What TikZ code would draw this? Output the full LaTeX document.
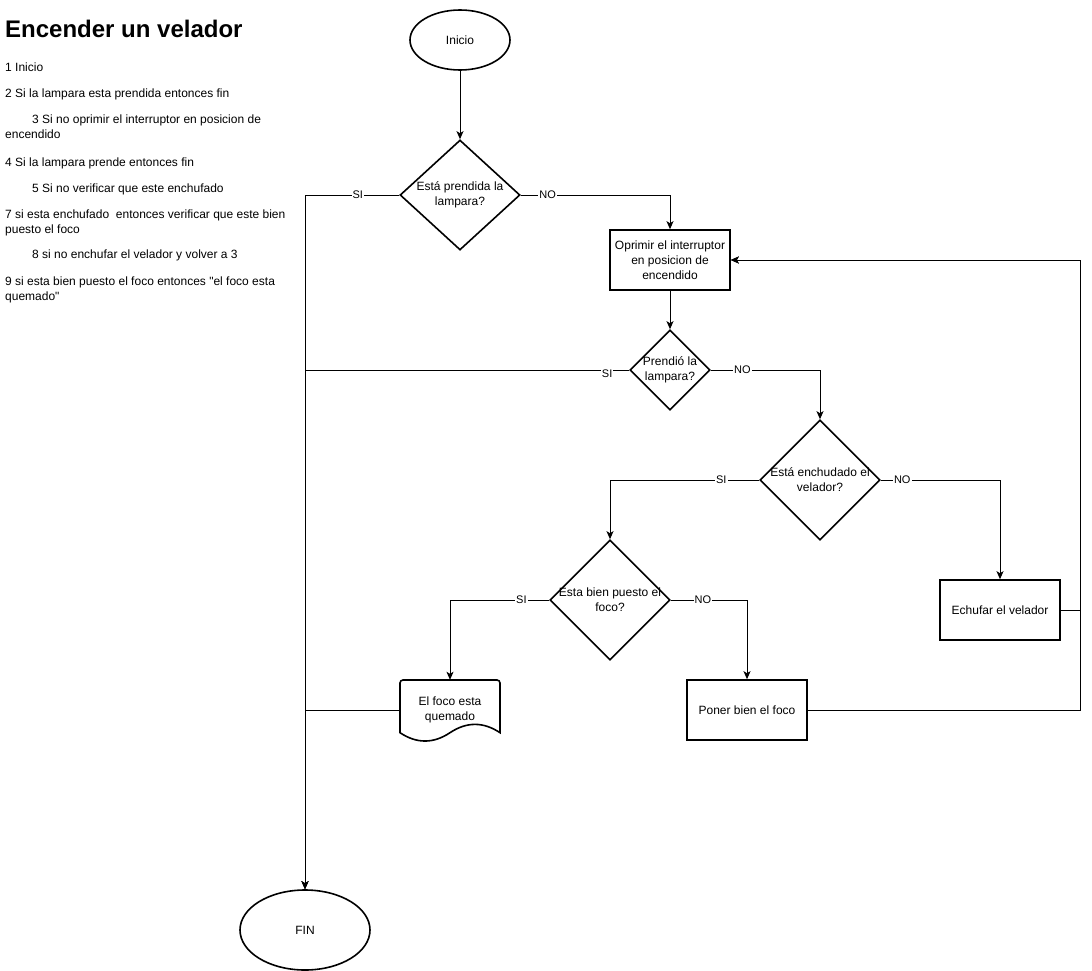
\documentclass[tikz,border=0pt]{standalone}
\usepackage{fontspec}
\setmainfont[Ligatures=TeXOff]{Liberation Sans}
\usetikzlibrary{shapes.geometric,arrows.meta}

\tikzset{
  shp/.style={draw=black, line width=1.6pt, fill=white, inner sep=0pt,
              font=\fontsize{12}{15}\selectfont, align=center},
  oval/.style={shp, ellipse},
  procbox/.style={shp, rectangle},
  decision/.style={shp, diamond},
  dtext/.style={inner sep=0pt, font=\fontsize{12}{15}\selectfont, align=center},
  conn/.style={draw=black, line width=1pt,
               -{Stealth[length=8pt,width=7pt,inset=2pt]}},
  lbl/.style={fill=white, inner sep=1pt, font=\fontsize{11}{13}\selectfont},
  note/.style={anchor=base west, inner sep=0pt, font=\fontsize{12}{15}\selectfont},
}

\begin{document}
\begin{tikzpicture}[x=1pt, y=-1pt]
\useasboundingbox (0,0) rectangle (1092,971);

% --- description on the left
\node[anchor=base west, inner sep=0pt, font=\fontsize{24}{28}\selectfont\bfseries] (title) at (5,38) {Encender un velador};
\node[note] (s1)  at (5,72)   {1 Inicio};
\node[note] (s2)  at (5,98)   {2 Si la lampara esta prendida entonces fin};
\node[note] (s3)  at (32,124) {3 Si no oprimir el interruptor en posicion de};
\node[note] (s3b) at (5,139)  {encendido};
\node[note] (s4)  at (5,166)  {4 Si la lampara prende entonces fin};
\node[note] (s5)  at (32,192) {5 Si no verificar que este enchufado};
\node[note] (s7)  at (5,218)  {7 si esta enchufado\ \ entonces verificar que este bien};
\node[note] (s7b) at (5,233)  {puesto el foco};
\node[note] (s8)  at (32,258) {8 si no enchufar el velador y volver a 3};
\node[note] (s9)  at (5,285)  {9 si esta bien puesto el foco entonces "el foco esta};
\node[note] (s9b) at (5,300)  {quemado"};

% --- flowchart shapes
\node[oval, minimum width=100pt, minimum height=60pt] (ini) at (460,40) {Inicio};

\node[decision, minimum width=120pt, minimum height=110pt] (d1) at (460,195) {};
\node[dtext] (d1t) at (d1) {Está prendida la\\lampara?};

\node[procbox, minimum width=120pt, minimum height=60pt] (op) at (670,260)
  {Oprimir el interruptor\\en posicion de\\encendido};

\node[decision, minimum width=80pt, minimum height=80pt] (d2) at (670,370) {};
\node[dtext] (d2t) at (d2) {Prendió la\\lampara?};

\node[decision, minimum width=120pt, minimum height=120pt] (d3) at (820,480) {};
\node[dtext] (d3t) at (d3) {Está enchudado el\\velador?};

\node[procbox, minimum width=120pt, minimum height=60pt] (ech) at (1000,610) {Echufar el velador};

\node[decision, minimum width=120pt, minimum height=120pt] (d4) at (610,600) {};
\node[dtext] (d4t) at (d4) {Esta bien puesto el\\foco?};

\node[procbox, minimum width=120pt, minimum height=60pt] (pon) at (747,710) {Poner bien el foco};

% document shape with a wavy lower edge
\draw[line width=1.6pt, fill=white, rounded corners=3pt]
  (400,732.7) -- (400,680) -- (500,680) [sharp corners] -- (500,732.7)
  .. controls (483.3,721.6) and (466.7,721.6) .. (450,732.7)
  .. controls (433.3,743.8) and (416.7,743.8) .. (400,732.7) -- cycle;
\node[dtext, minimum width=100pt, minimum height=60pt] (doc) at (450,710) {El foco esta\\quemado};

\node[oval, minimum width=130pt, minimum height=80pt] (fin) at (305,930) {FIN};

\coordinate (back) at (1080,260);

% --- connectors
\draw[conn] (ini.south) -- (d1.north);
\draw[conn] (d1.west) -| node[lbl, pos=0.22] {SI} (fin.north);
\draw[conn] (d1.east) -| node[lbl, pos=0.09] {NO} (op.north);
\draw[conn] (op.south) -- (d2.north);
\draw[conn] (d2.west) -| node[lbl, pos=0.034, yshift=-4pt] {SI} (fin.north);
\draw[conn] (d2.east) -| node[lbl, pos=0.145] {NO} (d3.north);
\draw[conn] (d3.west) -| node[lbl, pos=0.127] {SI} (d4.north);
\draw[conn] (d3.east) -| node[lbl, pos=0.09] {NO} (ech.north);
\draw[conn] (d4.west) -| node[lbl, pos=0.14] {SI} (doc.north);
\draw[conn] (d4.east) -| node[lbl, pos=0.21] {NO} (pon.north);
\draw[conn] (ech.east) -| (back) -- (op.east);
\draw[conn] (pon.east) -| (back) -- (op.east);
\draw[conn] (doc.west) -| (fin.north);
\end{tikzpicture}
\end{document}
